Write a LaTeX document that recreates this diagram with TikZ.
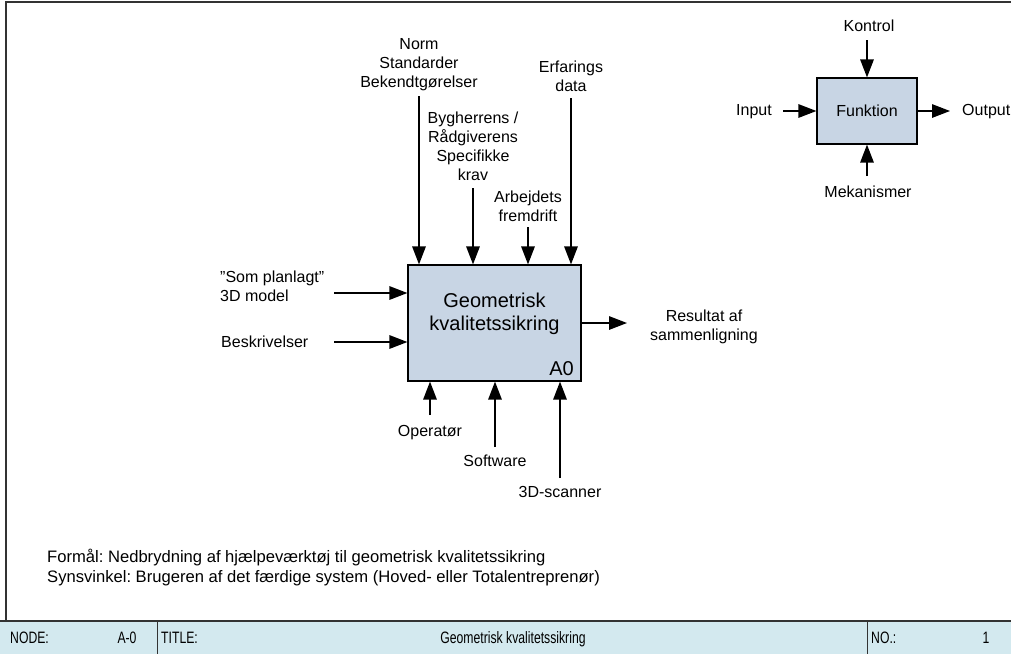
\documentclass[tikz,border=0pt]{standalone}
\usepackage{fontspec}
\setmainfont{Liberation Sans}
\newfontfamily\condensedfont[FakeStretch=0.74]{Liberation Sans}
\usetikzlibrary{arrows.meta}
\definecolor{boxfill}{HTML}{C8D5E4}
\definecolor{barfill}{HTML}{D3E9EF}
\definecolor{frameline}{HTML}{333333}
\frenchspacing
\tikzset{
  lbl/.style={inner sep=0pt, align=center, font=\fontsize{16}{19}\selectfont},
  lbll/.style={lbl, align=left},
  note/.style={inner sep=0pt, align=left, font=\fontsize{16.6}{20}\selectfont},
  actbox/.style={draw=black, line width=1.2pt, fill=boxfill, inner sep=0pt},
  flow/.style={draw=black, line width=1.4pt, -{Triangle[length=18pt,width=13.5pt]}},
  bartxt/.style={inner sep=0pt, font=\condensedfont\fontsize{16.5}{19}\selectfont},
}
\begin{document}
\begin{tikzpicture}[x=1pt, y=-1pt]
\useasboundingbox (0,0) rectangle (1011,654);
\fill[white] (0,0) rectangle (1011,654);

% sheet frame
\draw[frameline, line width=2pt] (6,621) -- (6,2) -- (1011,2);

% title bar
\fill[barfill] (0,621) rectangle (1011,654);
\draw[frameline, line width=1.5pt] (0,621) -- (1011,621);
\draw[frameline, line width=1pt] (157,621) -- (157,654) (867,621) -- (867,654);
\node[bartxt, anchor=base west] (nodelbl) at (10,643) {NODE:};
\node[bartxt, anchor=base] (nodeval) at (127,643) {A-0};
\node[bartxt, anchor=base west] (titlelbl) at (161,643) {TITLE:};
\node[bartxt, anchor=base] (titleval) at (513,643) {Geometrisk kvalitetssikring};
\node[bartxt, anchor=base west] (nolbl) at (871,643) {NO.:};
\node[bartxt, anchor=base] (noval) at (986,643) {1};

% purpose and viewpoint
\node[note, anchor=base west] (purpose) at (47,562) {Formål: Nedbrydning af hjælpeværktøj til geometrisk kvalitetssikring};
\node[note, anchor=base west] (view) at (47,582) {Synsvinkel: Brugeren af det færdige system (Hoved- eller Totalentreprenør)};

% main activity
\node[actbox, minimum width=173pt, minimum height=116pt] (A) at (494.5,323) {};
\node[inner sep=0pt, align=center, font=\fontsize{20}{23}\selectfont, anchor=north] (Atitle) at (494.5,293) {Geometrisk\\kvalitetssikring};
\node[inner sep=0pt, font=\fontsize{20}{23}\selectfont, anchor=base east] (Aid) at (574,375) {A0};

% controls
\node[lbl, anchor=north] (norm) at (419,38) {Norm\\Standarder\\Bekendtgørelser};
\node[lbl, anchor=north] (byg) at (473,112) {Bygherrens /\\Rådgiverens\\Specifikke\\krav};
\node[lbl, anchor=north] (arb) at (528,191) {Arbejdets\\fremdrift};
\node[lbl, anchor=north] (erf) at (571,61) {Erfarings\\data};
\coordinate (c1) at (419,96);
\coordinate (c2) at (473,188);
\coordinate (c3) at (528,227);
\coordinate (c4) at (571,98);
\draw[flow] (c1) -- (c1 |- A.north);
\draw[flow] (c2) -- (c2 |- A.north);
\draw[flow] (c3) -- (c3 |- A.north);
\draw[flow] (c4) -- (c4 |- A.north);

% inputs
\node[lbll, anchor=north west] (som) at (220,271) {”Som planlagt”\\3D model};
\node[lbll, anchor=north west] (besk) at (221,336) {Beskrivelser};
\coordinate (i1) at (334,293);
\coordinate (i2) at (334,342);
\draw[flow] (i1) -- (i1 -| A.west);
\draw[flow] (i2) -- (i2 -| A.west);

% output
\coordinate (o1) at (627,323);
\draw[flow] (A.east |- o1) -- (o1);
\node[lbl, anchor=north] (res) at (704,310) {Resultat af\\sammenligning};

% mechanisms
\coordinate (m1) at (430,415);
\coordinate (m2) at (495,447);
\coordinate (m3) at (560,478);
\draw[flow] (m1) -- (m1 |- A.south);
\draw[flow] (m2) -- (m2 |- A.south);
\draw[flow] (m3) -- (m3 |- A.south);
\node[lbl, anchor=north] (oper) at (430,425) {Operatør};
\node[lbl, anchor=north] (soft) at (495,455) {Software};
\node[lbl, anchor=north] (scan) at (560,486) {3D-scanner};

% legend
\node[actbox, minimum width=100pt, minimum height=66pt, font=\fontsize{16}{19}\selectfont] (F) at (867,111) {Funktion};
\node[lbl, anchor=north] (kon) at (869,20) {Kontrol};
\node[lbl, anchor=base east] (inp) at (772,115) {Input};
\node[lbl, anchor=base west] (outp) at (962,115) {Output};
\node[lbl, anchor=north] (mek) at (868,186) {Mekanismer};
\coordinate (k1) at (867,40);
\coordinate (k2) at (783,111);
\coordinate (k3) at (950,111);
\coordinate (k4) at (867,176);
\draw[flow] (k1) -- (F.north);
\draw[flow] (k2) -- (F.west);
\draw[flow] (F.east) -- (k3);
\draw[flow] (k4) -- (F.south);
\end{tikzpicture}
\end{document}
